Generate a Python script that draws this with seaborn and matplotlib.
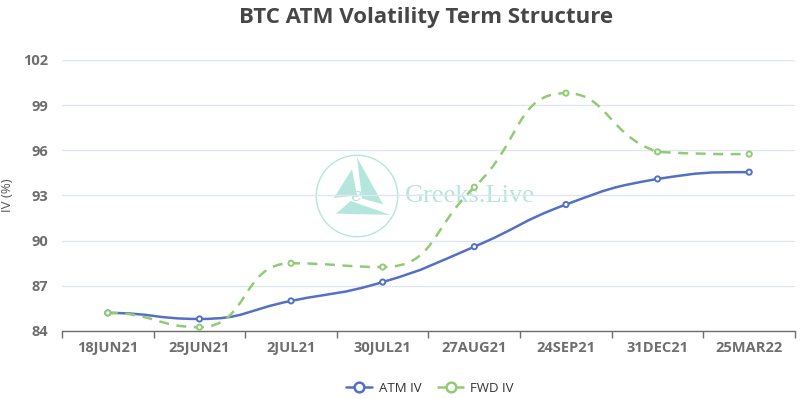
import numpy as np
import pandas as pd
import matplotlib
matplotlib.use("Agg")
import matplotlib.pyplot as plt
import seaborn as sns
from matplotlib.path import Path
from matplotlib.patches import PathPatch, Circle, Polygon
from matplotlib.lines import Line2D

# === Data ===
expiries = ["18JUN21", "25JUN21", "2JUL21", "30JUL21", "27AUG21", "24SEP21", "31DEC21", "25MAR22"]
atm_iv = [85.2, 84.8, 86.0, 87.25, 89.6, 92.4, 94.1, 94.55]
fwd_iv = [85.2, 84.25, 88.5, 88.25, 93.55, 99.8, 95.9, 95.75]
y_ticks = [84, 87, 90, 93, 96, 99, 102]

ATM_COLOR = "#5470c6"
FWD_COLOR = "#91cc75"
TICK_COLOR = "#6e6e6e"
WM_COLOR = "#b4e6dd"

sns.set_theme(style="white")
plt.rcParams["font.family"] = ["Open Sans", "DejaVu Sans"]

df = pd.DataFrame({"expiry": expiries, "ATM IV": atm_iv, "FWD IV": fwd_iv})
df["pos"] = np.arange(len(df))

fig = plt.figure(figsize=(8.03, 3.99), dpi=100)
ax = fig.add_axes([62 / 803, 68 / 399, 733 / 803, 271 / 399])
ax.set_xlim(-0.5, len(expiries) - 0.5)
ax.set_ylim(84, 102)


def smooth_path(xs, ys, smooth=0.5):
    # echarts-like bezier smoothing (no overshoot), done in display space
    pts = ax.transData.transform(np.column_stack([xs, ys]))
    n = len(pts)
    cps = []
    for i in range(n):
        p = pts[i]
        prev = pts[max(i - 1, 0)]
        nxt = pts[min(i + 1, n - 1)]
        v = (nxt - prev) * smooth
        if (p[1] - prev[1]) * (nxt[1] - p[1]) <= 0:
            v[1] = 0.0
        d0 = np.hypot(*(p - prev))
        d1 = np.hypot(*(p - nxt))
        s = d0 + d1
        c0 = p - v * d0 / s
        c1 = p + v * d1 / s
        c0[1] = np.clip(c0[1], min(p[1], prev[1]), max(p[1], prev[1]))
        c1[1] = np.clip(c1[1], min(p[1], nxt[1]), max(p[1], nxt[1]))
        cps.append((c0, c1))
    verts = [pts[0]]
    codes = [Path.MOVETO]
    for i in range(n - 1):
        verts += [cps[i][1], cps[i + 1][0], pts[i + 1]]
        codes += [Path.CURVE4] * 3
    verts = ax.transData.inverted().transform(np.array(verts))
    return Path(verts, codes)


# === Watermark (logo + text) ===
logo = fig.add_axes([315 / 803, (399 - 238) / 399, 84 / 803, 84 / 399])
logo.set_xlim(-1, 1)
logo.set_ylim(-1, 1)
logo.axis("off")
logo.set_zorder(0)
ax.set_zorder(1)
ax.patch.set_alpha(0)
logo.add_patch(Circle((0, 0), 0.97, fill=False, edgecolor=WM_COLOR, lw=1.0))
for tri in ([[-0.55, -0.05], [-0.12, 0.64], [0.0, 0.02]],
            [[0.0, 0.92], [0.62, -0.2], [0.12, -0.06]],
            [[-0.5, -0.42], [0.8, -0.45], [-0.15, -0.12]]):
    logo.add_patch(Polygon(tri, closed=True, facecolor=WM_COLOR, edgecolor="none"))
logo.text(-0.02, 0.0, "e", fontsize=14, family="DejaVu Serif", style="italic",
          color=WM_COLOR, ha="center", va="center")
fig.text(405 / 803, 1 - 196 / 399, "Greeks.Live", fontsize=19, family="Liberation Serif",
         color=WM_COLOR, ha="left", va="center", zorder=0)

# === Lines ===
ax.add_patch(PathPatch(smooth_path(df["pos"], df["ATM IV"]), fill=False,
                       edgecolor=ATM_COLOR, lw=1.8, zorder=3))
ax.add_patch(PathPatch(smooth_path(df["pos"], df["FWD IV"]), fill=False,
                       edgecolor=FWD_COLOR, lw=1.8, linestyle=(0, (4, 3)), zorder=3))

long_df = df.melt(id_vars=["pos"], value_vars=["ATM IV", "FWD IV"],
                  var_name="series", value_name="iv")
sns.scatterplot(data=long_df, x="pos", y="iv", hue="series",
                palette={"ATM IV": ATM_COLOR, "FWD IV": FWD_COLOR},
                marker="o", s=14, linewidth=1.4, legend=False, ax=ax, zorder=4)
# hollow markers: hue colour goes to the edge
pts = ax.collections[-1]
pts.set_edgecolors([ATM_COLOR if s == "ATM IV" else FWD_COLOR for s in long_df["series"]])
pts.set_facecolor("white")

# === Axes styling ===
ax.set_yticks(y_ticks)
ax.yaxis.grid(True, color="#e0e6f1", lw=1)
ax.set_axisbelow(True)
ax.set_xticks(np.arange(-0.5, len(expiries), 1.0))
ax.set_xticklabels([])
ax.set_xticks(np.arange(len(expiries)), minor=True)
ax.set_xticklabels(expiries, minor=True)
ax.tick_params(axis="x", which="major", length=5, width=1, color=TICK_COLOR, direction="out", bottom=True)
ax.tick_params(axis="x", which="minor", length=0, pad=7, labelsize=10.5, labelcolor=TICK_COLOR)
ax.tick_params(axis="y", length=0, pad=10, labelsize=10.5, labelcolor=TICK_COLOR)
for lab in ax.get_xticklabels(minor=True) + ax.get_yticklabels():
    lab.set_fontweight("bold")
for side in ["top", "right", "left"]:
    ax.spines[side].set_visible(False)
ax.spines["bottom"].set_color(TICK_COLOR)
ax.spines["bottom"].set_linewidth(1)
ax.set_xlabel("")
ax.set_ylabel("")
fig.text(8 / 803, 1 - 195 / 399, "IV (%)", rotation=90, ha="center", va="center",
         fontsize=9.5, color="#555555")

fig.text(426 / 803, 1 - 17 / 399, "BTC ATM Volatility Term Structure", ha="center", va="center",
         fontsize=16, fontweight="bold", color="#464646")

handles = [
    Line2D([], [], color=ATM_COLOR, lw=1.8, marker="o", markersize=7,
           markerfacecolor="white", markeredgewidth=1.8),
    Line2D([], [], color=FWD_COLOR, lw=1.8, linestyle=(0, (4, 3)), marker="o", markersize=7,
           markerfacecolor="white", markeredgewidth=1.8),
]
fig.legend(handles, ["ATM IV", "FWD IV"], loc="center", bbox_to_anchor=(430 / 803, 1 - 388 / 399),
           ncol=2, frameon=False, fontsize=9.5, handlelength=2.0, columnspacing=1.2,
           handletextpad=0.5, labelcolor="#333333")

fig.savefig("out.png", dpi=100)
